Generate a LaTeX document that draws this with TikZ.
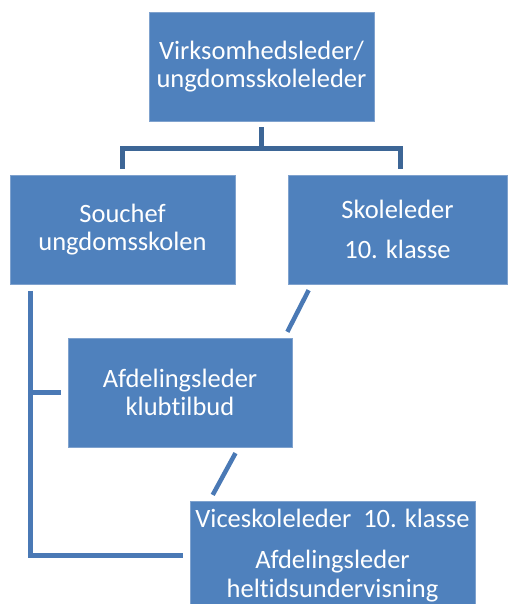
\documentclass[tikz,border=0pt]{standalone}
\usepackage{fontspec}
\setmainfont{Carlito}[Ligatures=NoCommon]
\usetikzlibrary{calc}
\definecolor{boxblue}{HTML}{4F81BD}
\definecolor{boxrim}{HTML}{7FA2CE}
\definecolor{treeblue}{HTML}{3D6696}
\definecolor{lineblue}{HTML}{4A79B5}
\begin{document}
\begin{tikzpicture}[
    x=1pt, y=-1pt,
    every node/.style={font=\fontsize{26.5}{28.5}\selectfont},
    orgbox/.style={
        rectangle,
        draw=boxrim,
        line width=0.8pt,
        fill=boxblue,
        text=white,
        inner sep=0pt,
        minimum width=225pt,
        minimum height=109pt,
        align=center
    },
    tree/.style={
        draw=treeblue,
        line width=5pt,
        shorten <=6pt,
        shorten >=6pt
    },
    link/.style={
        draw=lineblue,
        line width=4.5pt,
        shorten <=6.5pt,
        shorten >=6.5pt
    }
]
\useasboundingbox (0,0) rectangle (507,604);

% Bokse
\node[orgbox] (leder) at (261.5,66.5) {Virksomhedsleder/\\ungdomsskoleleder};
\node[orgbox] (souchef) at (122.5,229.5) {Souchef\\ungdomsskolen};
\node[orgbox, minimum width=219pt] (skole) at (397.5,229.5) {Skoleleder\\[11pt]10. klasse};
\node[orgbox, minimum width=224pt] (klub) at (180,392.5) {Afdelingsleder\\klubtilbud};
\node[orgbox, minimum width=285pt] (vice) at (332.5,555.5)
    {Viceskoleleder\ \ 10. klasse\\[13pt]Afdelingsleder\\heltidsundervisning};

% Hierarki
\draw[tree] (leder.south) -- ++(0,27) -| (souchef.north);
\draw[tree] (leder.south) -- ++(0,27) -| ([xshift=2.5pt]skole.north);

% Souchef til afdelingsledere
\coordinate (spine) at ($(souchef.south west)+(21,0)$);
\draw[link, shorten >=7pt] (spine) |- (vice.west);
\draw[link, shorten >=0pt] (klub.west) -- (klub.west -| spine);

% Skraa forbindelser
\draw[link] ($(skole.south west)+(24,0)$) -- ($(klub.north east)+(-8,0)$);
\draw[link] ($(klub.south west)+(171,0)$) -- ($(vice.north west)+(20,0)$);

\end{tikzpicture}
\end{document}
